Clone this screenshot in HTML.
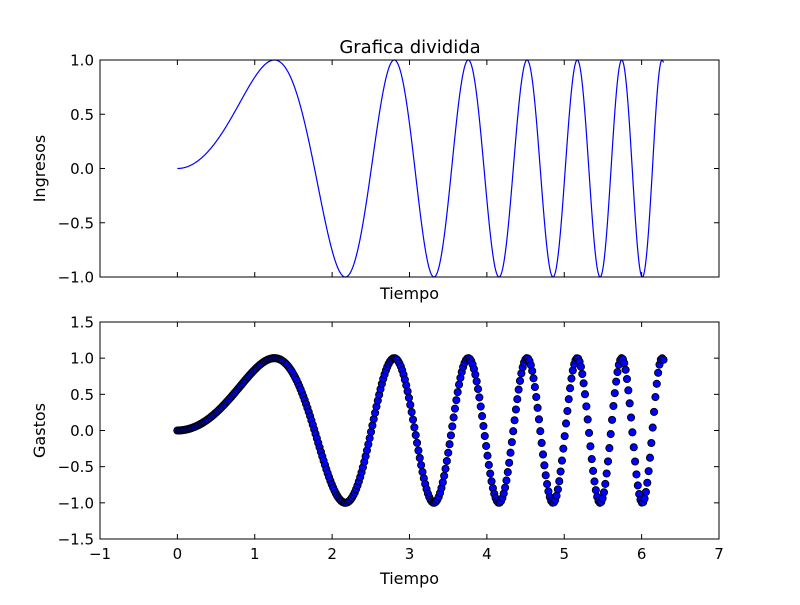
<!DOCTYPE html>
<html><head><meta charset="utf-8"><style>
body{margin:0;background:#fff}
svg text{font-family:"DejaVu Sans","Liberation Sans",sans-serif;fill:#000}
</style></head><body>
<svg id="c" width="800" height="600" viewBox="0 0 800 600">
<rect width="800" height="600" fill="#fff"/>
<text x="410" y="53" font-size="18" text-anchor="middle">Grafica dividida</text>
</svg>
<script>
// x positions of zero crossings and extrema
const keyX = [0, 1.2533, 1.7725, 2.1708, 2.5066, 2.8025, 3.0700, 3.3160, 3.5449, 3.7599, 3.9633, 4.1568, 4.3416, 4.5194, 4.6895, 4.8549, 5.0133, 5.1686, 5.3174, 5.4636, 5.6050, 5.7432, 5.8785, 6.0093, 6.1400, 6.2640, 6.2832];
const keyY = [0, 1, 0, -1, 0, 1, 0, -1, 0, 1, 0, -1, 0, 1, 0, -1, 0, 1, 0, -1, 0, 1, 0, -1, 0, 1, 0.978];
const xTicks = [-1, 0, 1, 2, 3, 4, 5, 6, 7];
const yTicksTop = [-1.0, -0.5, 0.0, 0.5, 1.0];
const yTicksBot = [-1.5, -1.0, -0.5, 0.0, 0.5, 1.0, 1.5];
const scatterCount = 360;

const svg = document.getElementById('c');
const NS = 'http://www.w3.org/2000/svg';
function mk(tag, attrs, parent) {
  const e = document.createElementNS(NS, tag);
  for (const k in attrs) e.setAttribute(k, attrs[k]);
  (parent || svg).appendChild(e);
  return e;
}
const L = 100, R = 719;
const xs = v => L + (v - (-1)) / 8 * (R - L);
const panels = [
  {top: 60, bot: 277, min: -1, max: 1, ticks: yTicksTop, xlabels: false, ylabel: 'Ingresos', name: 'top'},
  {top: 322, bot: 539, min: -1.5, max: 1.5, ticks: yTicksBot, xlabels: true, ylabel: 'Gastos', name: 'bottom'}
];
panels.forEach(p => p.ys = v => p.bot - (v - p.min) / (p.max - p.min) * (p.bot - p.top));

function curveY(x) {
  for (let i = 0; i < keyX.length - 1; i++) {
    const a = keyX[i], b = keyX[i + 1];
    if (x >= a && x <= b) {
      const t = (x * x - a * a) / (b * b - a * a);
      const ya = keyY[i], yb = keyY[i + 1];
      if (ya === 0) return yb * Math.sin(t * Math.PI / 2);
      if (yb === 0) return ya * Math.cos(t * Math.PI / 2);
      return ya + (yb - ya) * t;
    }
  }
  return keyY[keyY.length - 1];
}
const xMax = keyX[keyX.length - 1];

function fmt(v) { return (v < 0 ? '\u2212' : '') + Math.abs(v).toFixed(1); }

panels.forEach(p => {
  const g = mk('g', {});
  
  
  if (p.name === 'top') {
    let d = '';
    const n = 1200;
    for (let i = 0; i <= n; i++) {
      const x = xMax * i / n;
      d += (i ? 'L' : 'M') + xs(x).toFixed(2) + ',' + p.ys(curveY(x)).toFixed(2);
    }
    const path = mk('path', {d: d, fill: 'none', stroke: '#0000ff', 'stroke-width': 1.2}, g);
    
    
  } else {
    const sg = mk('g', {}, g);
    
    
    for (let i = 0; i < scatterCount; i++) {
      const x = xMax * i / (scatterCount - 1);
      const c = mk('circle', {cx: xs(x), cy: p.ys(curveY(x)), r: 3.6, fill: '#0000ff', stroke: '#000', 'stroke-width': 0.9}, sg);
      
      
    }
  }
  const frame = mk('rect', {x: L, y: p.top, width: R - L, height: p.bot - p.top, fill: 'none', stroke: '#000', 'stroke-width': 1}, g);
  
  
  xTicks.forEach(t => {
    const x = xs(t);
    mk('line', {x1: x, x2: x, y1: p.bot, y2: p.bot - 5, stroke: '#000'}, g);
    mk('line', {x1: x, x2: x, y1: p.top, y2: p.top + 5, stroke: '#000'}, g);
    if (p.xlabels) {
      const tx = mk('text', {x: x, y: p.bot + 20, 'font-size': 15, 'text-anchor': 'middle'}, g);
      tx.textContent = t < 0 ? '\u2212' + Math.abs(t) : String(t);
      
      
    }
  });
  p.ticks.forEach(t => {
    const y = p.ys(t);
    mk('line', {x1: L, x2: L + 5, y1: y, y2: y, stroke: '#000'}, g);
    mk('line', {x1: R, x2: R - 5, y1: y, y2: y, stroke: '#000'}, g);
    const ty = mk('text', {x: L - 6, y: y + 5.5, 'font-size': 15, 'text-anchor': 'end'}, g);
    ty.textContent = fmt(t);
    
    
  });
  const xl = mk('text', {x: (L + R) / 2, y: p.bot + (p.xlabels ? 45 : 22), 'font-size': 16, 'text-anchor': 'middle'}, g);
  xl.textContent = 'Tiempo';
  
  
  const cy = (p.top + p.bot) / 2;
  const yl = mk('text', {x: 45, y: cy, 'font-size': 16, 'text-anchor': 'middle', transform: 'rotate(-90 45 ' + cy + ')'}, g);
  yl.textContent = p.ylabel;
  
  
});
</script>
</body></html>
